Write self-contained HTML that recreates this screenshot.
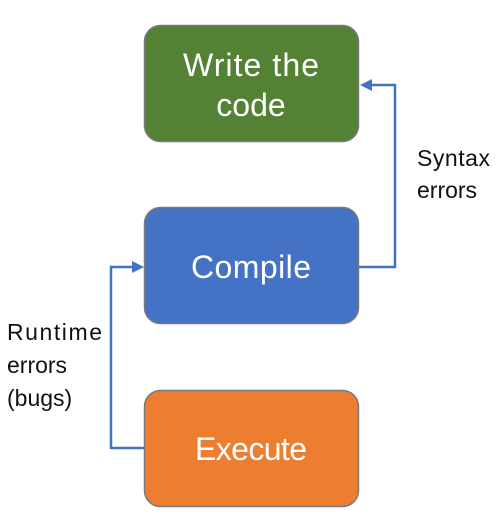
<!DOCTYPE html>
<html><head><style>
body{margin:0;width:497px;height:526px;background:#fff;overflow:hidden}
svg{display:block}
text{font-family:"Liberation Sans",sans-serif}
</style></head><body>
<svg width="497" height="526" viewBox="0 0 497 526">
<rect x="144.5" y="25.5" width="214" height="116" rx="16" fill="#548235" stroke="#7a7a7a" stroke-width="1.5"/>
<rect x="144.5" y="207.5" width="214" height="116" rx="16" fill="#4472c4" stroke="#7a7a7a" stroke-width="1.5"/>
<rect x="144.5" y="390.5" width="214" height="116" rx="16" fill="#ed7d31" stroke="#7a7a7a" stroke-width="1.5"/>
<g fill="#fff" font-size="32" text-anchor="middle">
<text x="251" y="76" textLength="136">Write the</text>
<text x="251" y="116">code</text>
<text x="251" y="278" textLength="120">Compile</text>
<text x="251" y="460" textLength="112">Execute</text>
</g>
<g fill="none" stroke="#4472c4" stroke-width="2.5">
<polyline points="359,267 395,267 395,85 370,85"/>
<polyline points="144,448 111,448 111,267 134,267"/>
</g>
<polygon points="360,85 372,79 372,91" fill="#4472c4"/>
<polygon points="144,267 132,261 132,273" fill="#4472c4"/>
<g fill="#111" font-size="23">
<text x="417" y="166" textLength="73">Syntax</text>
<text x="417" y="198">errors</text>
<text x="7" y="340" textLength="95">Runtime</text>
<text x="7" y="373">errors</text>
<text x="7" y="406">(bugs)</text>
</g>
</svg>
</body></html>
